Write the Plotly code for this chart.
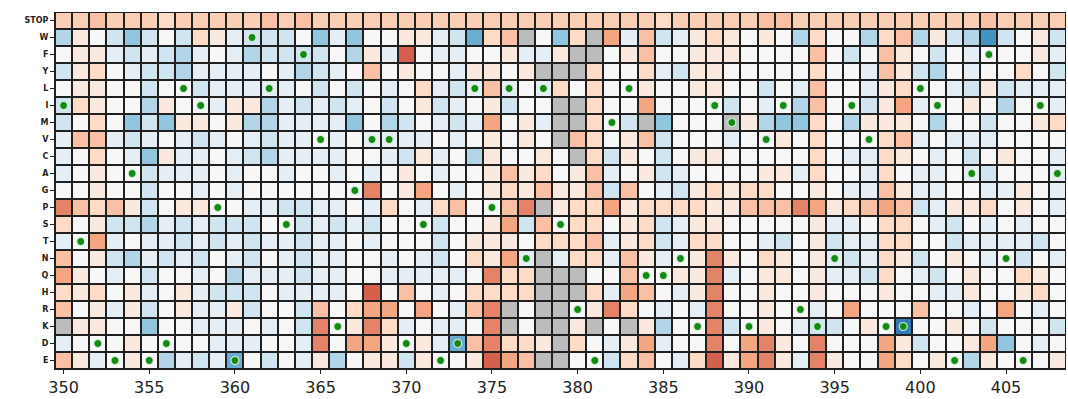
import plotly.graph_objects as go

positions = list(range(350, 409))
residues = ["STOP", "W", "F", "Y", "L", "I", "M", "V", "C", "A", "G",
            "P", "S", "T", "N", "Q", "H", "R", "K", "D", "E"]
N = None  # no measurement

# mutational scores per substituted residue, positions 350..408
STOP = [2.5, 2.5, 3, 2.5, 2.5, 2.5, 2, 2.5, 2.5, 2.5, 2.5, 2.5, 3, 2.5, 3, 2.5, 2.5, 2.5, 2.5, 2.5,
        2.5, 2.5, 2.5, 2.5, 2.5, 2.5, 2.5, 2.5, 2.5, 2.5, 2.5, 2.5, 2.5, 2.5, 2.5, 2, 2.5, 2.5, 2.5, 2.5,
        2.5, 3, 3, 2.5, 2.5, 2.5, 2.5, 2.5, 2.5, 2.5, 2.5, 2.5, 2.5, 2.5, 3, 2.5, 2.5, 2.5, 2.5]
W = [-3, 1, 0, -2, -4, -2, 0, -2, 2, 1, -1, -2, -2, -2, 0, -4, -1, -4, 0, 0,
     1, 1, -1, -2, -5, 2, 3, N, 0, -4, 2, N, 4, -1, 3, -2, -1, 1, 2, 1,
     0, 1, 0, -3, 2, 0, 0, -3, 2, 3, -3, 1, -2, -3, -6, -2, 0, 1, -2]
F = [0, 1, 1, -1, -2, -1, -2, -3, -1, 0, -1, -3, -2, -2, -2, -2, 0, -3, 1, -1,
     6, 0, -1, -1, 0, 0, 1, -1, -1, 1, N, N, 0, 1, 3, 0, 0, 1, 1, 1,
     0, 0, 0, 0, 3, 0, -2, 0, 3, 1, 0, -2, 0, -1, 0, 0, 0, 1, -1]
Y = [-2, 1, 2, 0, -1, -2, -2, -3, -1, -1, -1, -1, 0, -1, -3, -2, -1, 0, 3, 0,
     1, 0, 0, -1, 1, 1, 0, 1, N, N, N, 2, 0, 0, 2, -1, -2, 1, 1, 0,
     0, 0, 0, 0, 2, 0, 0, -1, 3, 1, -2, -3, 0, -1, 0, 0, 2, 0, -2]
L = [0, 1, 1, 0, 0, -2, 0, 0, -2, -1, -1, -1, -1, -1, 0, -2, 0, -2, 0, -1,
     0, 2, -1, -2, -1, 3, -1, 0, -1, 2, 0, 2, 0, 0, 1, 0, 0, 1, 1, 0,
     0, -2, 0, -1, 3, 0, 0, -1, 1, 2, 0, 0, -1, -2, 1, -2, -1, -1, -1]
I = [-2, 2, 1, 0, 0, -3, 1, 0, 0, -1, 1, 1, -3, -1, -2, -1, -2, -1, 0, -2,
     0, 1, -2, -1, 0, 1, -2, 0, 0, N, N, 2, 0, 0, 4, 0, 0, 0, 0, -2,
     0, -1, 0, -3, 3, 0, 0, -2, 1, 4, -1, 0, 0, 1, 0, -3, 0, 0, -1]
M = [-2, 0, 2, 0, -4, -2, -4, 1, 1, 0, 1, -3, -3, -1, -1, -1, -1, -4, 0, -3,
     -2, 0, -1, -2, -1, 4, 0, 1, -1, N, N, 2, 0, -2, N, -4, 0, 0, 0, N,
     1, -3, -4, -4, 2, 0, -3, 1, 1, 1, 0, -3, 0, 0, -2, 0, 0, 1, 2]
V = [-1, 3, 3, -1, -2, -1, 0, -1, -2, -1, 0, -1, -2, -1, -1, 0, -1, 0, -1, -1,
     -1, -1, 0, -1, 0, 1, 0, 1, 0, N, 3, 2, 0, 1, 3, -2, 0, 0, 0, -1,
     0, 0, 1, 0, 2, 0, 0, 0, 2, 3, -1, 0, -1, -1, -1, 0, 0, 0, 0]
C = [-1, 0, 2, 0, -1, -4, 1, -1, -1, 0, -1, -2, -3, -1, -1, -1, -1, 0, 0, -1,
     -2, 1, -1, 0, -3, 1, 0, 0, 1, 0, N, 2, -2, 1, 0, -2, 0, 1, 1, 0,
     0, 0, 0, 0, 2, 0, -1, -1, 2, 1, 0, -1, 0, -2, 0, 1, 0, 0, -1]
A = [-1, 0, 1, 0, 0, -2, -1, -1, -1, 0, -1, 0, 0, -1, 0, 0, -1, 0, -1, 0,
     1, 0, -1, 0, 0, 1, 3, 1, 2, 0, 1, 3, -1, 0, 1, -2, -1, 0, 0, 0,
     0, 1, 1, -1, 2, 0, 0, -1, 2, 0, -1, -1, 0, -1, -2, 0, 0, 0, -1]
G = [0, 0, 1, 0, 0, -2, 0, 0, -1, 0, -1, 0, 0, 0, 0, 0, 0, 0, 5, 0,
     1, 4, 0, -1, 0, 1, 2, 1, 3, 1, 1, 3, -2, 3, 0, -1, -2, 1, 2, 1,
     2, 2, 0, 0, 1, 0, -1, -1, 3, 1, -1, -1, 0, 0, -1, -1, 1, 0, -1]
P = [5, 3, 2, 3, 1, -2, 0, 1, 1, 0, 0, -1, -1, -2, -2, -1, -1, 0, -1, 2,
     0, -1, 2, 3, 0, 0, 3, 5, N, 1, 2, 2, 4, 1, 2, 2, 2, 2, 1, 1,
     3, 3, 3, 5, 4, 1, 2, 3, 4, 3, -2, -1, 1, 1, 2, 0, 1, 0, -1]
S = [2, 0, 1, -2, -2, -3, -1, -2, -1, -2, -2, -2, 0, 0, -2, -1, -2, -1, -2, 0,
     0, 0, -2, 0, 0, 1, 4, -2, 3, 0, 2, 2, 0, 1, 2, -2, -1, 1, 1, 0,
     0, 0, 0, 0, 1, -1, -1, 0, 2, 2, 0, -1, -2, 0, -1, 0, -1, 0, 0]
T = [-1, 0, 4, -1, 0, -1, -1, -2, -1, -2, -1, -2, -1, -1, -2, -1, -1, 0, -1, 0,
     0, 0, -2, 0, 1, 1, 1, 0, 2, 2, 2, 3, -1, 1, 2, -2, -1, 2, 2, 0,
     0, -1, -2, 0, 1, -2, -1, -1, 2, 2, 0, 0, -2, -1, -1, -1, -1, -2, 0]
Nn = [3, 0, 1, -2, -3, -1, -2, -1, -2, 0, -1, -2, 0, -1, -2, -1, -1, 0, 0, -1,
      0, -1, -2, 0, 2, 1, 4, -1, N, -1, 2, 2, -1, 3, 1, -1, 0, 1, 5, 1,
      0, 2, 1, 0, 1, -1, -2, -1, 2, 1, -2, 0, 1, 0, -1, 0, -2, 0, -1]
Q = [4, 1, 0, -1, 0, -2, 0, 0, -1, 0, -3, -1, -1, -1, -2, -1, -1, 0, 0, -1,
     -1, -1, -1, -1, 0, 5, 2, 2, N, N, N, 0, 0, 3, 0, 0, 1, 1, 5, -1,
     0, 1, 1, 0, 1, -1, -1, -2, 2, 0, -1, -2, 0, 1, 0, 0, 2, 1, 0]
H = [2, 1, 2, 0, 1, -1, 0, 1, -1, -2, -2, -2, 0, -1, -1, -1, -1, 0, 6, 0,
     3, 0, -1, 0, 2, 2, 2, 2, N, N, N, 2, -1, 4, 3, 0, -1, 1, 5, 0,
     0, 1, 0, 0, 1, 0, 0, 0, 1, 0, 0, -1, -1, 1, 0, 0, 1, 2, 0]
R = [3, 0, 1, -1, 1, -2, 0, 1, -1, -1, 1, -2, 0, 0, -2, 3, 0, 2, 4, 4,
     0, 4, 0, -1, 3, 5, N, 0, N, N, 0, 1, 5, 2, 0, -1, 0, -1, 5, 0,
     0, 1, 0, 0, -1, 0, 4, 0, 0, 0, 3, 0, 0, -1, 0, 4, 0, -1, 0]
K = [N, 1, 1, 0, 0, -4, 0, 0, -1, -1, -1, 0, -1, 0, -2, 5, 0, 1, 5, 2,
     -1, 0, -1, -1, 0, 5, N, 0, N, N, 1, N, 0, N, 1, -3, 0, 0, 5, -2,
     0, 1, 0, -1, -2, -2, 0, 1, 0, -7, 0, 0, 1, 0, -2, 0, 0, 0, -2]
D = [-1, 0, 0, 0, 1, 0, 0, 0, 0, -1, -1, -1, 0, 0, -1, 5, 0, 4, 4, 1,
     0, 1, -1, -5, 3, 5, 2, 2, 1, N, 2, 0, -1, 1, 4, -1, 0, 0, 5, 0,
     4, 5, 1, 0, 5, 0, 0, 0, 4, 1, -2, 0, 0, 1, 4, -4, 0, -1, 0]
E = [3, 1, -1, 0, 1, 0, -3, -1, -2, -1, -5, 0, -2, 0, -1, 1, -3, 0, 1, 1,
     -2, 1, 0, 0, 1, 6, 4, 3, N, N, 0, 0, -2, 2, 3, 0, -1, 2, 6, 1,
     4, 5, 1, -1, 5, 1, 0, 0, 4, 2, 0, 1, 0, -3, 1, 0, 0, 0, 1]

# wild-type residue at each position
wt_pos = list(range(350, 409))
wt_res = ["I", "T", "D", "E", "A", "E", "D", "L", "I", "P",
          "E", "W", "L", "S", "F", "V", "K", "G", "V", "V",
          "D", "S", "E", "D", "L", "P", "L", "N", "L", "S",
          "R", "E", "M", "L", "Q", "Q", "N", "K", "I", "M",
          "K", "V", "I", "R", "K", "N", "I", "V", "K", "K",
          "L", "I", "E", "A", "F", "N", "E", "I", "A"]

z = [STOP, W, F, Y, L, I, M, V, C, A, G, P, S, T, Nn, Q, H, R, K, D, E]
missing = [[1 if v is None else None for v in row] for row in z]

rdbu_r = ["#053061", "#2166ac", "#4393c3", "#92c5de", "#d1e5f0", "#f7f7f7",
          "#fddbc7", "#f4a582", "#d6604d", "#b2182b", "#67001f"]
colorscale = [[i / 10, c] for i, c in enumerate(rdbu_r)]

fig = go.Figure()
fig.add_trace(go.Heatmap(
    x=positions, y=residues, z=missing,
    colorscale=[[0, "#bcbcbc"], [1, "#bcbcbc"]],
    showscale=False, xgap=2, ygap=2, hoverinfo="skip"))
fig.add_trace(go.Heatmap(
    x=positions, y=residues, z=z,
    colorscale=colorscale, zmin=-10, zmax=10,
    showscale=False, xgap=2, ygap=2))
fig.add_trace(go.Scatter(
    x=wt_pos, y=wt_res, mode="markers",
    marker=dict(color="#138a13", size=8,
                line=dict(color="rgba(225,245,225,0.9)", width=1.2)),
    showlegend=False))

fig.update_layout(
    width=1068, height=399,
    margin=dict(l=55, r=2, t=12, b=27),
    paper_bgcolor="white", plot_bgcolor="#202020",
    font=dict(family="DejaVu Sans", color="#222"),
    showlegend=False,
)
fig.update_xaxes(
    range=[349.5, 408.5], tickvals=list(range(350, 406, 5)),
    ticks="outside", ticklen=4, tickcolor="#222", tickfont=dict(size=16),
    showgrid=False, zeroline=False, showline=True, linecolor="#222", linewidth=1,
)
fig.update_yaxes(
    categoryorder="array", categoryarray=residues,
    range=[len(residues) - 0.5, -0.5],
    tickvals=residues, ticktext=[f"<b>{r}</b>" for r in residues],
    ticks="outside", ticklen=4, tickcolor="#222", tickfont=dict(size=8),
    showgrid=False, zeroline=False, showline=True, linecolor="#222", linewidth=1,
)

fig.write_html("out.html")
